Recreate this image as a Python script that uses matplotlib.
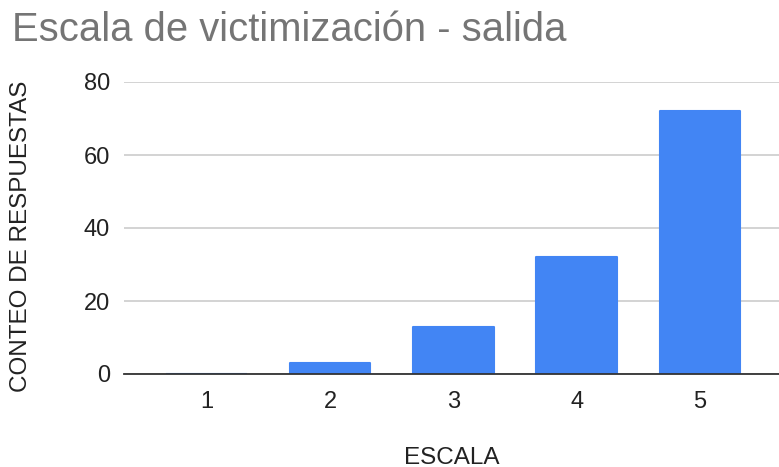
import matplotlib
matplotlib.use("Agg")
import matplotlib.pyplot as plt

categories = ["1", "2", "3", "4", "5"]
counts = [0, 3, 13, 32, 72]
yticks = [0, 20, 40, 60, 80]

plt.rcParams['font.family'] = ['Liberation Sans', 'DejaVu Sans']

fig = plt.figure(figsize=(7.79, 4.67), dpi=100)
ax = fig.add_axes([124/779, 93/467, 655/779, 292/467])

x = list(range(1, len(categories) + 1))
ax.bar(x, counts, width=0.655, color='#4285F4', edgecolor='#4285F4',
       linewidth=1.5, joinstyle='round', zorder=3)

ax.set_xlim(0.33, 5.64)
ax.set_ylim(0, 80)
ax.set_xticks(x)
ax.set_xticklabels(categories)
ax.set_yticks(yticks)
ax.yaxis.grid(True, color='#cccccc', linewidth=1.2, zorder=0)
ax.set_axisbelow(True)
for s in ['top', 'right', 'left']:
    ax.spines[s].set_visible(False)
ax.spines['bottom'].set_color('#333333')
ax.spines['bottom'].set_linewidth(1.3)
ax.spines['bottom'].set_zorder(4)
ax.tick_params(axis='both', length=0, labelsize=17, colors='#222222')
ax.tick_params(axis='y', pad=10)
ax.tick_params(axis='x', pad=12)

ax.set_xlabel('ESCALA', fontsize=17.5, color='#222222', va='center')
ax.xaxis.set_label_coords(0.5, -0.287)
ax.set_ylabel('CONTEO DE RESPUESTAS', fontsize=17.5, color='#222222', va='center')
ax.yaxis.set_label_coords(-0.157, 0.47)

fig.text(12/779, 1 - 30/467, 'Escala de victimización - salida', fontsize=28.8,
         color='#757575', va='center', ha='left')

fig.savefig('out.png', dpi=100)
